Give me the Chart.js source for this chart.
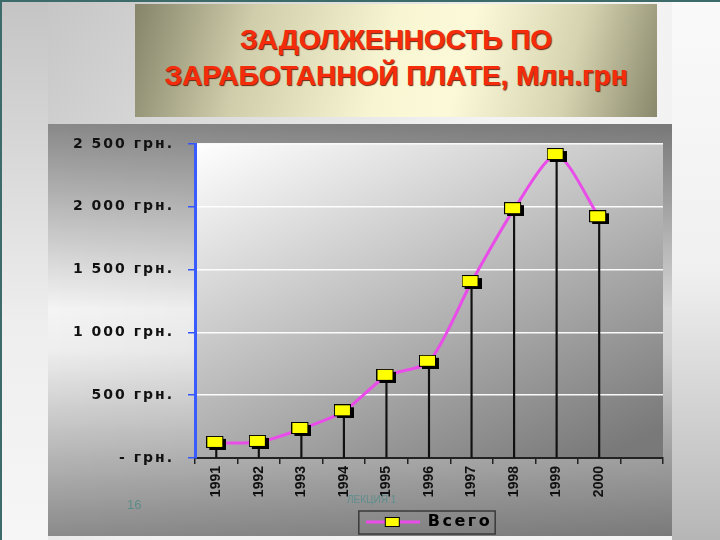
<!DOCTYPE html>
<html><head><meta charset="utf-8">
<script src="https://cdn.jsdelivr.net/npm/chart.js@4.4.1/dist/chart.umd.min.js"></script>
<style>
html,body{margin:0;padding:0;width:720px;height:540px;overflow:hidden;background:#eee}
#wrap{position:relative;width:720px;height:540px}
canvas{position:absolute;left:0;top:0}
#title{position:absolute;left:135px;top:4px;width:522px;height:113px;background:linear-gradient(105deg,#85846a 0%,#cfcdaa 22%,#f8f6d2 48%,#fbf9d8 62%,#d6d4b0 82%,#89886c 100%);text-align:center;font:bold 28px "Liberation Sans",Arial,sans-serif;color:#f42c0c;text-shadow:1px 1px 1px #6a2410;box-sizing:border-box;padding-top:18px;line-height:36px}
.foot{position:absolute;font-family:"Liberation Sans",Arial,sans-serif}
</style></head>
<body><div id="wrap"><canvas id="c" width="720" height="540"></canvas>
<div id="title">ЗАДОЛЖЕННОСТЬ ПО<br>ЗАРАБОТАННОЙ ПЛАТЕ, Млн.грн</div>
<div class="foot" style="left:127px;top:497px;font-size:13px;color:#5c8c88">16</div>
<div class="foot" style="left:347px;top:494px;font-size:10px;color:#5f8e8c">ЛЕКЦИЯ 1</div>
</div>
<script>
// ---- data ----
const years = ['1991','1992','1993','1994','1995','1996','1997','1998','1999','2000',''];
const debt = [120, 128, 231, 372, 654, 766, 1401, 1981, 2412, 1917];
const yTickValues = [0, 500, 1000, 1500, 2000, 2500];
const seriesName = 'Всего';
const currency = 'грн.';

const FAMILY = '"Liberation Sans", Arial, sans-serif';
const WIDE = '"DejaVu Sans", Verdana, sans-serif';

function makeMarker(){
  const c = document.createElement('canvas'); c.width = 20; c.height = 14;
  const g = c.getContext('2d');
  g.fillStyle = '#000'; g.fillRect(3, 3, 17, 11);
  g.fillStyle = '#ffff00'; g.fillRect(0.5, 0.5, 16, 11);
  g.strokeStyle = '#000'; g.lineWidth = 1; g.strokeRect(0.5, 0.5, 16, 11);
  return c;
}
function makeLegendIcon(){
  const c = document.createElement('canvas'); c.width = 54; c.height = 14;
  const g = c.getContext('2d');
  g.strokeStyle = '#e94ce9'; g.lineWidth = 3;
  g.beginPath(); g.moveTo(0, 7); g.lineTo(54, 7); g.stroke();
  g.fillStyle = '#ffff00'; g.fillRect(19.5, 2.5, 14, 9);
  g.strokeStyle = '#000'; g.lineWidth = 1; g.strokeRect(19.5, 2.5, 14, 9);
  return c;
}
const marker = makeMarker();
const legendIcon = makeLegendIcon();

function fmt(v){
  if (v === 0) return '- ' + currency;
  return String(v).replace(/\B(?=(\d{3})+(?!\d))/g, ' ') + ' ' + currency;
}

const decor = {
  id: 'decor',
  beforeUpdate(chart){
    const lg = chart.legend;
    if (lg && !lg._patched){
      const f = lg.fit.bind(lg), d = lg.draw.bind(lg);
      lg.fit = function(){ const c = this.ctx; c.save(); c.letterSpacing = '2.5px'; f(); c.restore(); };
      lg.draw = function(){ const c = this.ctx; c.save(); c.letterSpacing = '2.5px'; d(); c.restore(); };
      lg._patched = true;
    }
  },
  beforeDraw(chart){
    const y = chart.scales.y;
    if (y && !y._patched){
      const o = y.drawLabels.bind(y);
      y.drawLabels = function(a){ const c = this.ctx; c.save(); c.letterSpacing = '2px'; o(a); c.restore(); };
      y._patched = true;
    }
    const ctx = chart.ctx, W = chart.width, H = chart.height;
    ctx.save();
    // page background
    let g = ctx.createLinearGradient(0, 0, W, H);
    g.addColorStop(0, '#c2c2c2'); g.addColorStop(0.5, '#f2f2f2'); g.addColorStop(1, '#f4f4f4');
    ctx.fillStyle = g; ctx.fillRect(0, 0, W, H);
    g = ctx.createLinearGradient(0, 0, 0, H);
    g.addColorStop(0, '#c4c4c4'); g.addColorStop(0.6, '#eeeeee'); g.addColorStop(1, '#f6f6f6');
    ctx.fillStyle = g; ctx.fillRect(0, 0, 48, H);
    g = ctx.createLinearGradient(0, 0, 0, H);
    g.addColorStop(0, '#fafafa'); g.addColorStop(0.5, '#f0f0f0'); g.addColorStop(1, '#b6b6b6');
    ctx.fillStyle = g; ctx.fillRect(672, 0, W - 672, H);
    ctx.fillStyle = '#3d6b69'; ctx.fillRect(0, 0, W, 2); ctx.fillRect(0, 0, 2, H);
    // chart frame
    g = ctx.createLinearGradient(0, 124, 0, 536);
    g.addColorStop(0, '#888888'); g.addColorStop(0.45, '#f4f4f4'); g.addColorStop(0.55, '#eeeeee'); g.addColorStop(1, '#8a8a8a');
    ctx.fillStyle = g; ctx.fillRect(48, 124, 624, 412);
    g = ctx.createLinearGradient(48, 0, 672, 0);
    g.addColorStop(0, 'rgba(0,0,0,0)'); g.addColorStop(1, 'rgba(0,0,0,0.12)');
    ctx.fillStyle = g; ctx.fillRect(48, 124, 624, 412);
    // plot area
    const a = chart.chartArea;
    g = ctx.createLinearGradient(a.left, a.top, a.left + 192, a.top + 413);
    g.addColorStop(0, '#ffffff'); g.addColorStop(1, '#797979');
    ctx.fillStyle = g; ctx.fillRect(a.left, a.top, a.right - a.left, a.bottom - a.top);
    ctx.restore();
  },
  afterDraw(chart){
    const lg = chart.legend;
    if (!lg || !lg.legendHitBoxes || !lg.legendHitBoxes.length) return;
    const hb = lg.legendHitBoxes[0];
    const ctx = chart.ctx;
    ctx.save();
    ctx.strokeStyle = '#3a3a3a'; ctx.lineWidth = 1.5;
    ctx.strokeRect(hb.left - 7, hb.top - 3, hb.width + 10, hb.height + 7);
    ctx.restore();
  }
};

new Chart(document.getElementById('c'), {
  data: {
    labels: years,
    datasets: [
      { type: 'line', label: seriesName, data: debt, borderColor: '#e94ce9', borderWidth: 3,
        tension: 0.25, pointStyle: marker, pointRadius: 8, pointHoverRadius: 8, order: 0 },
      { type: 'bar', label: 'drop', data: debt, backgroundColor: '#111111', barThickness: 1.5, order: 1 }
    ]
  },
  options: {
    responsive: false, animation: false,
    layout: { padding: { left: 48, top: 144, right: 57, bottom: 0 } },
    scales: {
      x: {
        offset: true,
        grid: { offset: true, drawOnChartArea: false, drawTicks: true, tickLength: 6, tickColor: '#222', lineWidth: 1.5 },
        border: { color: '#222', width: 2 },
        ticks: { color: '#111', font: { family: FAMILY, weight: 'bold', size: 14 }, maxRotation: 90, minRotation: 90, padding: 2, autoSkip: false },
        afterFit(s){ s.height = 48; }
      },
      y: {
        min: 0, max: 2500,
        afterBuildTicks(s){ s.ticks = yTickValues.map(v => ({ value: v })); },
        ticks: { color: '#111', font: { family: WIDE, weight: 'bold', size: 14 }, padding: 14, callback: v => fmt(v) },
        grid: { color: 'rgba(255,255,255,0.95)', lineWidth: 1.5, tickColor: '#3355ff', tickLength: 7 },
        border: { color: '#3a5cff', width: 3 },
        afterFit(s){ s.width = 147; }
      }
    },
    plugins: {
      legend: {
        position: 'bottom', fullSize: false,
        labels: {
          usePointStyle: true, pointStyleWidth: 54, padding: 8, color: '#111',
          font: { family: WIDE, weight: 'bold', size: 16 },
          generateLabels: () => [{ text: seriesName, pointStyle: legendIcon, datasetIndex: 0, hidden: false, lineWidth: 0, fillStyle: 'rgba(0,0,0,0)', strokeStyle: 'rgba(0,0,0,0)' }]
        }
      },
      tooltip: { enabled: false }
    }
  },
  plugins: [decor]
});
</script>
</body></html>
